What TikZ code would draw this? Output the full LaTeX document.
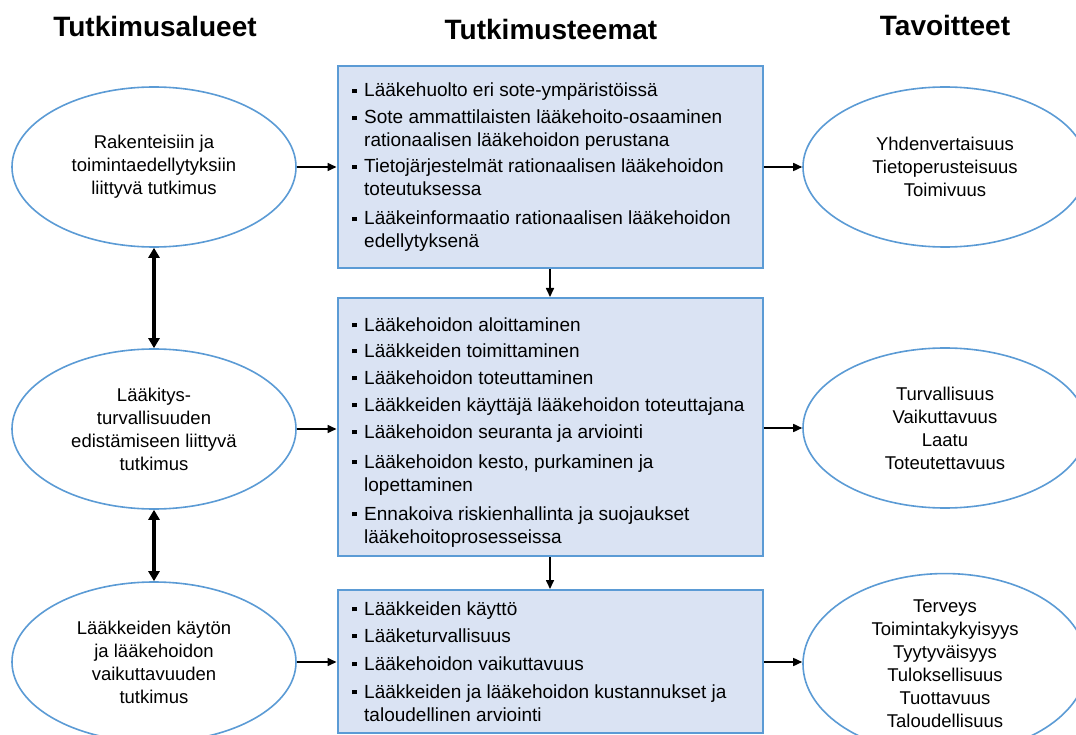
\documentclass[tikz,border=0pt]{standalone}
\usepackage{fontspec}
\setmainfont{Liberation Sans}
\usetikzlibrary{shapes.geometric,arrows.meta}
\definecolor{bord}{HTML}{5B9BD5}
\definecolor{boxfill}{HTML}{DAE3F3}
\newcommand\bul{\makebox[12pt][l]{\rule[3.75pt]{4.5pt}{4.5pt}}}
\begin{document}
\begin{tikzpicture}[x=1pt,y=-1pt,
 hdr/.style={font=\fontsize{28}{32}\selectfont\bfseries, inner sep=0, anchor=base},
 oval/.style={ellipse, draw=bord, line width=1.6pt, fill=white, minimum width=284pt, minimum height=160pt, inner sep=0, align=center, font=\fontsize{18.5}{23}\selectfont},
 theme/.style={draw=bord, fill=boxfill, line width=2pt, minimum width=425pt, inner sep=0},
 itm/.style={anchor=base west, inner sep=0, font=\fontsize{19}{23}\selectfont},
 arr/.style={line width=1.6pt, -{Triangle[length=9pt,width=8pt]}},
 dbl/.style={line width=3.5pt, {Triangle[length=10pt,width=11pt]}-{Triangle[length=10pt,width=11pt]}}
]
\useasboundingbox (0,0) rectangle (1076,735);
\clip (0,0) rectangle (1076,735);
\fill[white] (0,0) rectangle (1076,735);

% headers
\node[hdr] (h1) at (155,37) {Tutkimusalueet};
\node[hdr] (h2) at (551,40) {Tutkimusteemat};
\node[hdr] (h3) at (945,36) {Tavoitteet};

% boxes
\node[theme, minimum height=202pt] (b1) at (550,167) {};
\node[theme, minimum height=258pt] (b2) at (550,427) {};
\node[theme, minimum height=143pt] (b3) at (550,661.5) {};

% items box 1
\node[itm] (i11) at (352,97) {\bul\parbox[t]{395pt}{Lääkehuolto eri sote-ympäristöissä}};
\node[itm] (i12) at (352,124) {\bul\parbox[t]{395pt}{Sote ammattilaisten lääkehoito-osaaminen\\rationaalisen lääkehoidon perustana}};
\node[itm] (i13) at (352,173) {\bul\parbox[t]{395pt}{Tietojärjestelmät rationaalisen lääkehoidon\\toteutuksessa}};
\node[itm] (i14) at (352,225) {\bul\parbox[t]{395pt}{Lääkeinformaatio rationaalisen lääkehoidon\\edellytyksenä}};

% items box 2
\node[itm] (i21) at (352,331) {\bul\parbox[t]{395pt}{Lääkehoidon aloittaminen}};
\node[itm] (i22) at (352,357) {\bul\parbox[t]{395pt}{Lääkkeiden toimittaminen}};
\node[itm] (i23) at (352,384) {\bul\parbox[t]{395pt}{Lääkehoidon toteuttaminen}};
\node[itm] (i24) at (352,411) {\bul\parbox[t]{395pt}{Lääkkeiden käyttäjä lääkehoidon toteuttajana}};
\node[itm] (i25) at (352,438) {\bul\parbox[t]{395pt}{Lääkehoidon seuranta ja arviointi}};
\node[itm] (i26) at (352,468) {\bul\parbox[t]{395pt}{Lääkehoidon kesto, purkaminen ja\\lopettaminen}};
\node[itm] (i27) at (352,520) {\bul\parbox[t]{395pt}{Ennakoiva riskienhallinta ja suojaukset\\lääkehoitoprosesseissa}};

% items box 3
\node[itm] (i31) at (352,615) {\bul\parbox[t]{395pt}{Lääkkeiden käyttö}};
\node[itm] (i32) at (352,642) {\bul\parbox[t]{395pt}{Lääketurvallisuus}};
\node[itm] (i33) at (352,670) {\bul\parbox[t]{395pt}{Lääkehoidon vaikuttavuus}};
\node[itm] (i34) at (352,698) {\bul\parbox[t]{395pt}{Lääkkeiden ja lääkehoidon kustannukset ja\\taloudellinen arviointi}};

% left ellipses
\node[oval] (l1) at (154,167) {Rakenteisiin ja\\toimintaedellytyksiin\\liittyvä tutkimus};
\node[oval] (l2) at (154,429) {Lääkitys-\\turvallisuuden\\edistämiseen liittyvä\\tutkimus};
\node[oval] (l3) at (154,662) {Lääkkeiden käytön\\ja lääkehoidon\\vaikuttavuuden\\tutkimus};

% right ellipses
\node[oval] (r1) at (945,167) {Yhdenvertaisuus\\Tietoperusteisuus\\Toimivuus};
\node[oval] (r2) at (945,428) {Turvallisuus\\Vaikuttavuus\\Laatu\\Toteutettavuus};
\node[oval] (r3) at (945,664) {Terveys\\Toimintakykyisyys\\Tyytyväisyys\\Tuloksellisuus\\Tuottavuus\\Taloudellisuus};

% connectors
\draw[arr] (l1.east) -- (l1.east -| b1.west);
\draw[arr] (l2.east) -- (l2.east -| b2.west);
\draw[arr] (l3.east) -- (l3.east -| b3.west);
\draw[arr] (r1.west -| b1.east) -- (r1.west);
\draw[arr] (r2.west -| b2.east) -- (r2.west);
\draw[arr] (l3.east -| b3.east) -- (l3.east -| r3.west);
\draw[arr] (b1.south) -- (b2.north);
\draw[arr] (b2.south) -- (b3.north);
\draw[dbl] (l1.south) -- (l2.north);
\draw[dbl] (l2.south) -- (l3.north);
\end{tikzpicture}
\end{document}
